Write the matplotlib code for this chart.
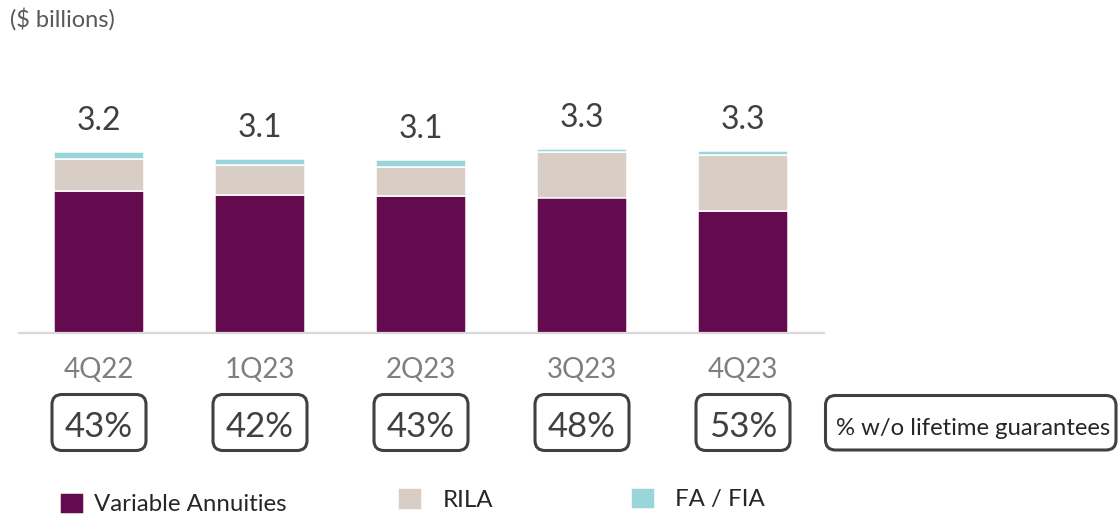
import matplotlib
matplotlib.use("Agg")
import matplotlib.pyplot as plt
from matplotlib.patches import FancyBboxPatch
from matplotlib.transforms import Affine2D, blended_transform_factory

# ---------------- data ----------------
categories = ["4Q22", "1Q23", "2Q23", "3Q23", "4Q23"]
variable_annuities = [2.52, 2.44, 2.42, 2.40, 2.16]
rila = [0.56, 0.53, 0.53, 0.80, 1.00]
fa_fia = [0.13, 0.12, 0.11, 0.06, 0.07]
total_labels = ["3.2", "3.1", "3.1", "3.3", "3.3"]
pct_without_lifetime = ["43%", "42%", "43%", "48%", "53%"]
series_names = ["Variable Annuities", "RILA", "FA / FIA"]

# ---------------- style ----------------
C_VA = "#640A4E"
C_RILA = "#D9CEC6"
C_FA = "#9AD5D9"
DARK = "#404040"
GRAY = "#7F7F7F"

plt.rcParams["font.family"] = ["Lato", "DejaVu Sans"]

W, H = 1120, 515
fig = plt.figure(figsize=(W / 100, H / 100), dpi=100)
# pixel coordinates measured from top-left
pix = Affine2D().scale(1 / W, -1 / H).translate(0, 1) + fig.transFigure

ax_left, ax_right, base_y, top_y = 18.5, 823.5, 332.5, 90
ax = fig.add_axes([ax_left / W, (H - base_y) / H, (ax_right - ax_left) / W, (base_y - top_y) / H])

x = list(range(len(categories)))
width = 0.56
lw = 1.1
b_va = ax.bar(x, variable_annuities, width, color=C_VA, edgecolor="white", linewidth=lw)
b_rila = ax.bar(x, rila, width, bottom=variable_annuities, color=C_RILA, edgecolor="white", linewidth=lw)
bot3 = [v + r for v, r in zip(variable_annuities, rila)]
b_fa = ax.bar(x, fa_fia, width, bottom=bot3, color=C_FA, edgecolor="white", linewidth=lw)

ax.set_xlim(-0.5, 4.5)
ax.set_ylim(0, (base_y - top_y) / 56.25)
for s in ["top", "right", "left"]:
    ax.spines[s].set_visible(False)
ax.spines["bottom"].set_color("#D9D9D9")
ax.spines["bottom"].set_linewidth(1.6)
ax.set_yticks([])
ax.set_xticks(x, categories)
ax.tick_params(axis="x", length=0, pad=0, labelsize=20, labelcolor="white")

# category labels placed at measured baseline
xt = blended_transform_factory(ax.transData, pix)
for i, c in enumerate(categories):
    ax.text(i, 378.3, c, transform=xt, ha="center", va="baseline", fontsize=20, color=GRAY)

# total labels above bars
tops = [b + f for b, f in zip(bot3, fa_fia)]
for i, (t, lab) in enumerate(zip(tops, total_labels)):
    ax.annotate(lab, (i, t), xytext=(0, 15.8), textcoords="offset points",
                ha="center", va="baseline", fontsize=23, color=DARK)

# percentage boxes
fig.canvas.draw()
for i, p in enumerate(pct_without_lifetime):
    cx_disp = ax.transData.transform((i, 0))[0]
    cx = fig.transFigure.inverted().transform((cx_disp, 0))[0] * W
    box = FancyBboxPatch((cx - 47, 394.5), 94, 56, boxstyle="round,pad=0,rounding_size=10",
                         transform=pix, facecolor="white", edgecolor=DARK, linewidth=2.2)
    fig.add_artist(box)
    fig.text(cx, 436.7, p, transform=pix, ha="center", va="baseline", fontsize=25, color=DARK)

gbox = FancyBboxPatch((825.5, 395.5), 290.5, 54.5, boxstyle="round,pad=0,rounding_size=10",
                      transform=pix, facecolor="white", edgecolor=DARK, linewidth=2.2)
fig.add_artist(gbox)
fig.text(973, 435, "% w/o lifetime guarantees", transform=pix, ha="center", va="baseline",
         fontsize=17.2, color="#262626")

fig.text(10, 27, "($ billions)", transform=pix, ha="left", va="baseline", fontsize=17, color="#595959")

# legend entries
fs_leg = 17.3
fs_px = fs_leg * 100 / 72
entries = [(b_va, series_names[0], 60, 504, 10), (b_rila, series_names[1], 397.5, 499.5, 21),
           (b_fa, series_names[2], 631, 499, 20)]
for handle, name, lx, ly, gap in entries:
    fig.legend([handle[0]], [name], loc="center left", bbox_to_anchor=(lx, ly), bbox_transform=pix,
               frameon=False, fontsize=fs_leg, borderpad=0, borderaxespad=0,
               handlelength=24 / fs_px, handleheight=24 / fs_px, handletextpad=gap / fs_px,
               labelcolor="#262626")

fig.savefig("out.png", dpi=100)
